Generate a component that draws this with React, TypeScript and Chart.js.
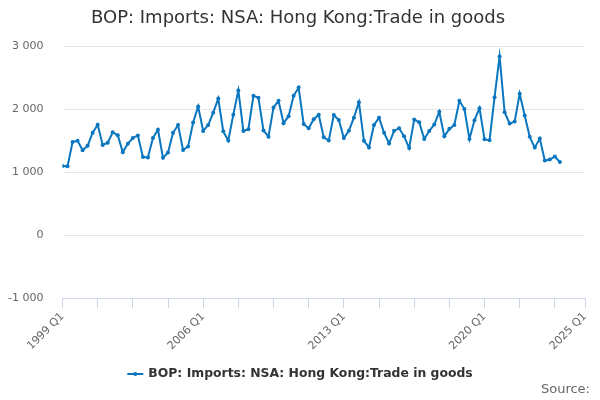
import React, { useEffect, useRef } from "react";
import { Chart, registerables } from "chart.js";

Chart.register(...registerables);

const TITLE = "BOP: Imports: NSA: Hong Kong:Trade in goods";
const SERIES_NAME = "BOP: Imports: NSA: Hong Kong:Trade in goods";
const START_YEAR = 1999;

// quarterly values, 1999 Q1 .. 2023 Q4 (£ million)
const imports: number[] = [
  1095, 1090, 1475, 1495, 1345, 1415, 1625, 1750, 1430, 1465,
  1630, 1585, 1315, 1450, 1540, 1580, 1238, 1230, 1538, 1672,
  1225, 1310, 1622, 1745, 1350, 1405, 1785, 2040, 1651, 1745,
  1942, 2165, 1645, 1500, 1910, 2295, 1651, 1680, 2210, 2180,
  1660, 1560, 2025, 2130, 1775, 1885, 2210, 2340, 1762, 1695,
  1838, 1910, 1550, 1500, 1905, 1825, 1538, 1653, 1862, 2108,
  1495, 1390, 1746, 1862, 1625, 1452, 1653, 1695, 1566, 1380,
  1833, 1790, 1525, 1651, 1754, 1955, 1566, 1685, 1746, 2130,
  2000, 1522, 1820, 2013, 1521, 1502, 2188, 2835, 1950, 1768,
  1800, 2243, 1897, 1558, 1387, 1530, 1183, 1198, 1246, 1159,
];

// x-axis tick marks (quarter index from 1999 Q1) and which ones carry labels
const xTickMarks = [0, 7, 14, 21, 28, 35, 42, 49, 56, 63, 70, 77, 84, 91, 98, 104];
const xLabelled = [0, 28, 56, 84, 104];
const yTicks = [-1000, 0, 1000, 2000, 3000];

const LINE_COLOR = "#0a76bf";
const FONT = "'DejaVu Sans', sans-serif";

const quarterLabel = (i: number) =>
  `${START_YEAR + Math.floor(i / 4)} Q${(i % 4) + 1}`;

const fmtThousands = (v: number) => {
  const s = Math.abs(v).toString().replace(/\B(?=(\d{3})+(?!\d))/g, " ");
  return v < 0 ? "-" + s : s;
};

const textPlugin = {
  id: "hcText",
  afterDraw(chart: any) {
    const ctx = chart.ctx;
    ctx.save();
    // title
    ctx.fillStyle = "#333333";
    ctx.font = `18px ${FONT}`;
    ctx.textAlign = "center";
    ctx.textBaseline = "middle";
    ctx.fillText(TITLE, 298, 18);

    // legend
    ctx.font = `bold 12.4px ${FONT}`;
    const tw = ctx.measureText(SERIES_NAME).width;
    const symW = 16;
    const total = symW + 5 + tw;
    const x0 = 300 - total / 2;
    const ly = 374;
    ctx.strokeStyle = LINE_COLOR;
    ctx.lineWidth = 2;
    ctx.beginPath();
    ctx.moveTo(x0, ly);
    ctx.lineTo(x0 + symW, ly);
    ctx.stroke();
    ctx.fillStyle = LINE_COLOR;
    ctx.beginPath();
    ctx.arc(x0 + symW / 2, ly, 2, 0, Math.PI * 2);
    ctx.fill();
    ctx.fillStyle = "#333333";
    ctx.textAlign = "left";
    ctx.fillText(SERIES_NAME, x0 + symW + 5, ly);

    // credits
    ctx.font = `13px ${FONT}`;
    ctx.fillStyle = "#666666";
    ctx.textAlign = "right";
    ctx.fillText("Source:", 590, 390);
    ctx.restore();
  },
};

const ImportsChart = () => {
  const canvasRef = useRef<HTMLCanvasElement | null>(null);

  useEffect(() => {
    const ctx = canvasRef.current?.getContext("2d");
    if (!ctx) return;

    const chart = new Chart(ctx, {
      type: "line",
      data: {
        datasets: [
          {
            label: SERIES_NAME,
            data: imports.map((v, i) => ({ x: i, y: v })),
            borderColor: LINE_COLOR,
            backgroundColor: LINE_COLOR,
            borderWidth: 2,
            pointRadius: 2,
            pointBorderWidth: 0,
            pointHoverRadius: 2,
            tension: 0,
          },
        ],
      },
      options: {
        animation: false,
        responsive: false,
        layout: { padding: { left: 0, right: 15, top: 46, bottom: 0 } },
        plugins: {
          legend: { display: false },
          title: { display: false },
          tooltip: { enabled: false },
        },
        scales: {
          x: {
            type: "linear",
            min: 0,
            max: 104,
            afterBuildTicks: (scale: any) => {
              scale.ticks = xTickMarks.map((v) => ({ value: v }));
            },
            afterFit: (scale: any) => {
              scale.height = 102;
            },
            grid: {
              drawOnChartArea: false,
              drawTicks: true,
              tickLength: 10,
              color: "#ccd6eb",
            },
            border: { display: true, color: "#ccd6eb" },
            ticks: {
              autoSkip: false,
              maxRotation: 45,
              minRotation: 45,
              padding: 2,
              color: "#666666",
              font: { family: FONT, size: 11 },
              callback: (v: any) =>
                xLabelled.includes(Number(v)) ? quarterLabel(Number(v)) : "",
            },
          },
          y: {
            min: -1000,
            max: 3000,
            afterBuildTicks: (scale: any) => {
              scale.ticks = yTicks.map((v) => ({ value: v }));
            },
            afterFit: (scale: any) => {
              scale.width = 62.5;
            },
            grid: { color: "#e6e6e6", drawTicks: false },
            border: { display: false },
            ticks: {
              padding: 19,
              color: "#666666",
              font: { family: FONT, size: 11 },
              callback: (v: any) => fmtThousands(Number(v)),
            },
          },
        },
      },
      plugins: [textPlugin],
    });

    return () => {
      chart.destroy();
    };
  }, []);

  return <canvas ref={canvasRef} width={600} height={400} style={{ display: "block" }} />;
};

export default function App() {
  return (
    <div style={{ position: "absolute", left: 0, top: 0, width: 600, height: 400, background: "#fff" }}>
      <ImportsChart />
    </div>
  );
}
